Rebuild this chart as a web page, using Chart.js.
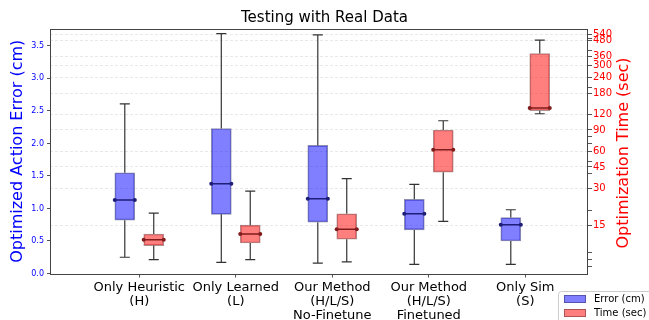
<!DOCTYPE html>
<html>
<head>
<meta charset="utf-8">
<script src="https://cdn.jsdelivr.net/npm/chart.js@4.4.0/dist/chart.umd.min.js"></script>
<style>
  html, body { margin: 0; padding: 0; background: #fff; }
</style>
</head>
<body>
<canvas id="boxChart" width="649" height="320"></canvas>
<script>
// ----------------------- data -----------------------------------------------------
const categories = [
  ['Only Heuristic', '(H)'],
  ['Only Learned', '(L)'],
  ['Our Method', '(H/L/S)', 'No-Finetune'],
  ['Our Method', '(H/L/S)', 'Finetuned'],
  ['Only Sim', '(S)']
];

// optimized action error (cm), left axis
const errMin = [0.25, 0.17, 0.16, 0.14, 0.14];
const errQ1  = [0.82, 0.91, 0.79, 0.67, 0.50];
const errMed = [1.13, 1.38, 1.15, 0.92, 0.75];
const errQ3  = [1.55, 2.23, 1.97, 1.14, 0.86];
const errMax = [2.61, 3.69, 3.67, 1.37, 0.98];

// optimization time (sec), right log axis
const timeMin = [7.9, 7.9, 7.6, 16.2, 122];
const timeQ1  = [10.3, 10.8, 11.6, 40.8, 129];
const timeMed = [11.5, 12.8, 14.0, 62, 136];
const timeQ3  = [12.8, 15.1, 18.7, 90, 378];
const timeMax = [18.9, 28.6, 36.2, 107, 485];

const timeTicks = [15, 30, 45, 60, 90, 120, 180, 240, 300, 360, 480, 540];
const timeMinorTicks = [7, 8, 9, 20, 40, 50, 70, 80, 200, 400, 500];

// ----------------------- helpers --------------------------------
const boxShift = 0.15;   // box centre offset from the category tick
const capHalf = 0.052;
const medHalf = 0.104;

function boxData(q1, q3, shift) {
  return q1.map(function(v, i) {
    return { x: i + 1 + shift, y: [v, q3[i]] };
  });
}

function whiskerData(lo, q1, q3, hi, shift) {
  let pts = [];
  for (let i = 0; i < lo.length; i++) {
    let x = i + 1 + shift;
    pts.push({x: x, y: lo[i]}, {x: x, y: q1[i]}, {x: x, y: null});
    pts.push({x: x, y: q3[i]}, {x: x, y: hi[i]}, {x: x, y: null});
    pts.push({x: x - capHalf, y: lo[i]}, {x: x + capHalf, y: lo[i]}, {x: x, y: null});
    pts.push({x: x - capHalf, y: hi[i]}, {x: x + capHalf, y: hi[i]}, {x: x, y: null});
  }
  return pts;
}

function medianData(med, shift) {
  let pts = [];
  med.forEach(function(m, i) {
    let x = i + 1 + shift;
    pts.push({x: x - medHalf, y: m}, {x: x + medHalf, y: m}, {x: x, y: null});
  });
  return pts;
}

// frame, right title (reads bottom to top) and the legend box
const extras = {
  id: 'extras',
  afterDraw(chart) {
    const ctx = chart.ctx;
    const a = chart.chartArea;
    ctx.save();
    ctx.strokeStyle = '#444';
    ctx.lineWidth = 1;
    ctx.strokeRect(Math.round(a.left) + 0.5, Math.round(a.top) + 0.5,
                   Math.round(a.right - a.left) - 1, Math.round(a.bottom - a.top));

    ctx.translate(624, 153);
    ctx.rotate(-Math.PI / 2);
    ctx.fillStyle = 'red';
    ctx.font = "16px 'DejaVu Sans'";
    ctx.textAlign = 'center';
    ctx.textBaseline = 'middle';
    ctx.fillText('Optimization Time (sec)', 0, 0);
    ctx.restore();

    // legend
    const items = chart.data.datasets.filter(function(d) { return d.type !== 'line'; });
    ctx.save();
    ctx.fillStyle = 'rgba(255,255,255,0.85)';
    ctx.strokeStyle = '#ccc';
    ctx.beginPath();
    ctx.roundRect(558.5, 291.5, 110, 40, 3);
    ctx.fill();
    ctx.stroke();
    ctx.font = "10px 'DejaVu Sans'";
    ctx.textBaseline = 'middle';
    items.forEach(function(d, i) {
      let y = 299 + i * 14;
      ctx.fillStyle = '#fff';
      ctx.fillRect(564, y - 4, 22, 8);
      ctx.fillStyle = d.backgroundColor;
      ctx.strokeStyle = d.borderColor;
      ctx.fillRect(564, y - 4, 22, 8);
      ctx.strokeRect(564.5, y - 3.5, 21, 7);
      ctx.fillStyle = '#000';
      ctx.fillText(d.label, 594, y);
    });
    ctx.restore();
  }
};

Chart.defaults.font.family = "'DejaVu Sans', sans-serif";
Chart.defaults.color = '#000';

const ctx = document.querySelector('#boxChart').getContext('2d');

const boxChart = new Chart(ctx, {
  type: 'bar',
  data: {
    datasets: [
      {
        label: 'Error (cm)',
        data: boxData(errQ1, errQ3, -boxShift),
        yAxisID: 'yErr',
        backgroundColor: 'rgba(0, 0, 255, 0.5)',
        borderColor: 'rgba(50, 50, 110, 0.55)',
        borderWidth: 1,
        borderSkipped: false,
        barThickness: 20,
        grouped: false,
        order: 3
      },
      {
        label: 'Time (sec)',
        data: boxData(timeQ1, timeQ3, boxShift),
        yAxisID: 'yTime',
        backgroundColor: 'rgba(255, 0, 0, 0.5)',
        borderColor: 'rgba(110, 50, 50, 0.55)',
        borderWidth: 1,
        borderSkipped: false,
        barThickness: 20,
        grouped: false,
        order: 3
      },
      {
        type: 'line',
        label: 'err whiskers',
        data: whiskerData(errMin, errQ1, errQ3, errMax, -boxShift),
        yAxisID: 'yErr',
        borderColor: '#333',
        borderWidth: 1.2,
        pointRadius: 0,
        spanGaps: false,
        order: 2
      },
      {
        type: 'line',
        label: 'time whiskers',
        data: whiskerData(timeMin, timeQ1, timeQ3, timeMax, boxShift),
        yAxisID: 'yTime',
        borderColor: '#333',
        borderWidth: 1.2,
        pointRadius: 0,
        spanGaps: false,
        order: 2
      },
      {
        type: 'line',
        label: 'err median',
        data: medianData(errMed, -boxShift),
        yAxisID: 'yErr',
        borderColor: '#1e1e78',
        backgroundColor: '#1e1e78',
        borderWidth: 1.5,
        pointRadius: 2,
        pointBorderWidth: 0,
        spanGaps: false,
        order: 1
      },
      {
        type: 'line',
        label: 'time median',
        data: medianData(timeMed, boxShift),
        yAxisID: 'yTime',
        borderColor: '#801c1c',
        backgroundColor: '#801c1c',
        borderWidth: 1.5,
        pointRadius: 2,
        pointBorderWidth: 0,
        spanGaps: false,
        order: 1
      }
    ]
  },
  options: {
    responsive: false,
    animation: false,
    layout: { padding: 0 },
    plugins: {
      legend: { display: false },
      tooltip: { enabled: false },
      title: {
        display: true,
        text: 'Testing with Real Data',
        color: '#000',
        font: { size: 15, weight: 'normal' },
        padding: { top: 9, bottom: 2 }
      }
    },
    scales: {
      x: {
        type: 'linear',
        min: 0.075,
        max: 5.65,
        offset: false,
        afterBuildTicks: function(scale) {
          scale.ticks = categories.map(function(c, i) { return { value: i + 1 }; });
        },
        ticks: {
          autoSkip: false,
          maxRotation: 0,
          color: '#000',
          font: { size: 13, lineHeight: 1.08 },
          padding: 3,
          callback: function(v) { return categories[v - 1]; }
        },
        grid: { drawOnChartArea: false, offset: false, tickLength: 4, color: '#555' },
        border: { display: false },
        afterFit: function(scale) { scale.height = 46.5; }
      },
      yErr: {
        type: 'linear',
        position: 'left',
        min: 0,
        max: 3.76,
        ticks: {
          stepSize: 0.5,
          includeBounds: false,
          color: 'blue',
          font: { size: 8 },
          padding: 3,
          callback: function(v) { return v.toFixed(1); }
        },
        grid: { drawOnChartArea: false, tickLength: 3, color: '#555' },
        border: { display: false },
        title: {
          display: true,
          text: 'Optimized Action Error (cm)',
          color: 'blue',
          font: { size: 16 },
          padding: { top: 8, bottom: 0 }
        },
        afterFit: function(scale) { scale.width = 50; }
      },
      yTime: {
        type: 'logarithmic',
        position: 'right',
        min: 6.1,
        max: 598,
        afterBuildTicks: function(scale) {
          scale.ticks = timeTicks.concat(timeMinorTicks)
            .sort(function(a, b) { return a - b; })
            .map(function(v) { return { value: v, major: timeTicks.includes(v) }; });
        },
        ticks: {
          autoSkip: false,
          color: 'red',
          font: { size: 10 },
          padding: 1,
          callback: function(v) { return timeTicks.includes(v) ? String(v) : ''; }
        },
        grid: {
          color: function(c) {
            return c.tick && timeTicks.includes(c.tick.value) ? 'rgba(0,0,0,0.09)' : 'rgba(0,0,0,0)';
          },
          tickColor: '#555',
          tickLength: 4
        },
        border: { display: false, dash: [3, 2] },
        afterFit: function(scale) { scale.width = 61; }
      }
    }
  },
  plugins: [extras]
});
</script>
</body>
</html>
